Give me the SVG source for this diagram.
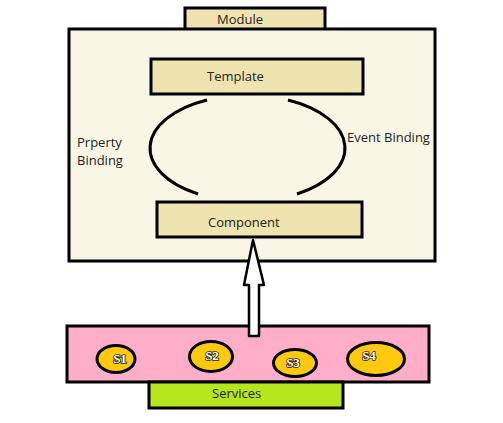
<svg xmlns="http://www.w3.org/2000/svg" width="503" height="423" viewBox="0 0 503 423">
<style>
.box{stroke:#000;stroke-width:3}
.tan{fill:#EFE4B0}
.t{font-family:"Open Sans","Liberation Sans",sans-serif;font-size:13px;fill:#222}
.s{font-family:"Liberation Serif",serif;font-size:13px;font-weight:bold;fill:#fff;stroke:#222;stroke-width:1.6;paint-order:stroke;text-anchor:middle}
.svc{fill:#FFC90E;stroke:#000;stroke-width:3}
.arc{fill:none;stroke:#000;stroke-width:3}
</style>
<rect width="503" height="423" fill="#fff"/>
<g id="module">
<rect class="box tan" x="185" y="8" width="140" height="24"/>
<text class="t" x="217" y="24">Module</text>
</g>
<g id="module-body">
<rect class="box" x="69" y="29" width="366" height="232" fill="#FAF6E6"/>
</g>
<g id="template">
<rect class="box tan" x="151" y="59" width="212" height="35"/>
<text class="t" x="207" y="81">Template</text>
</g>
<g id="component">
<rect class="box tan" x="157" y="202" width="205" height="35"/>
<text class="t" x="208" y="227">Component</text>
</g>
<g id="services">
<rect class="box" x="67" y="326" width="362" height="56" fill="#FFAEC9"/>
<rect class="box" x="149" y="382" width="194" height="26" fill="#B5E61D"/>
<text class="t" x="212" y="398">Services</text>
</g>
<g id="s1"><ellipse class="svc" cx="116" cy="359" rx="19" ry="13.5"/><text class="s" x="120" y="363">S1</text></g>
<g id="s2"><ellipse class="svc" cx="211" cy="356.5" rx="21.5" ry="15"/><text class="s" x="212" y="360">S2</text></g>
<g id="s3"><ellipse class="svc" cx="295" cy="363" rx="21.5" ry="13.5"/><text class="s" x="293" y="367">S3</text></g>
<g id="s4"><ellipse class="svc" cx="376" cy="359" rx="28.5" ry="16.5"/><text class="s" x="369" y="360">S4</text></g>
<g id="connectors">
<path class="arc" d="M207,100 A97,53 0 0 0 198,194"/>
<path class="arc" d="M288,100 A97,53 0 0 1 297,194"/>
<text class="t" x="77" y="147">Prperty</text>
<text class="t" x="77" y="165">Binding</text>
<text class="t" x="347" y="142">Event Binding</text>
<path d="M253,240 L264,285 L259,285 L259,336 L249,336 L249,285 L244,285 Z" fill="#fff" stroke="#000" stroke-width="2.5" stroke-linejoin="round"/>
</g>
</svg>
